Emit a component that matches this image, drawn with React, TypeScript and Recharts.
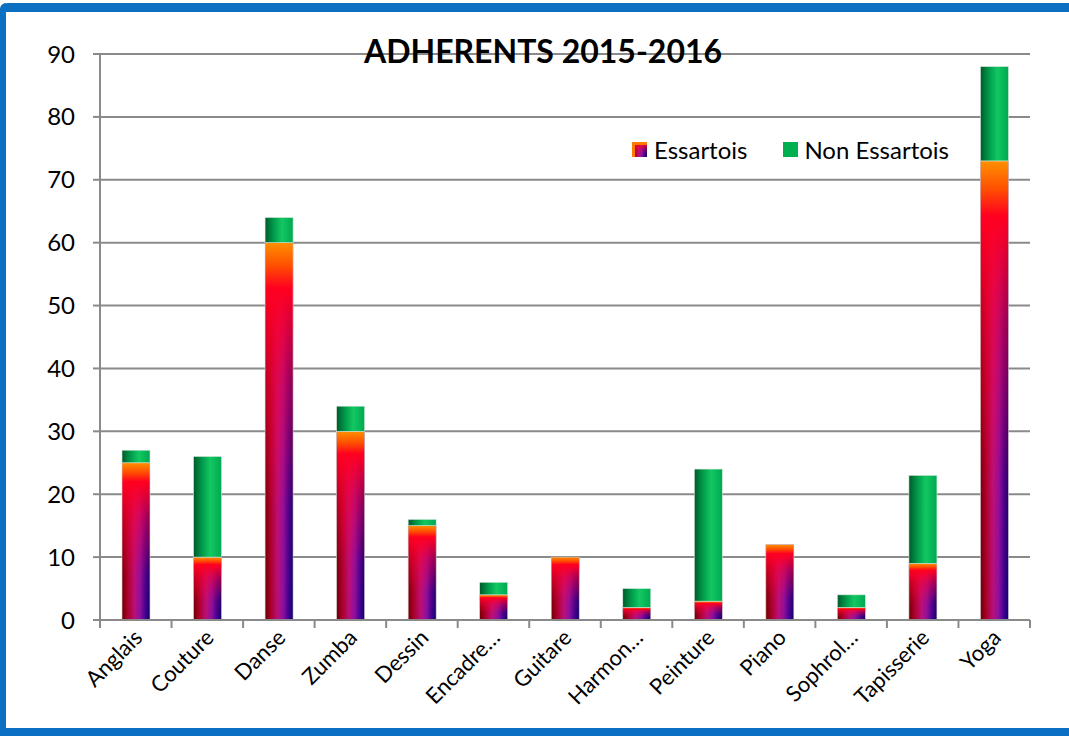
import React from 'react'
import { BarChart, Bar, XAxis, YAxis, CartesianGrid, Legend } from 'recharts'

// Données
const categories = [
	'Anglais',
	'Couture',
	'Danse',
	'Zumba',
	'Dessin',
	'Encadre…',
	'Guitare',
	'Harmon…',
	'Peinture',
	'Piano',
	'Sophrol…',
	'Tapisserie',
	'Yoga',
]
const essartois = [25, 10, 60, 30, 15, 4, 10, 2, 3, 12, 2, 9, 73]
const nonEssartois = [2, 16, 4, 4, 1, 2, 0, 3, 21, 0, 2, 14, 15]
const yTicks = [0, 10, 20, 30, 40, 50, 60, 70, 80, 90]

const chartData = categories.map((name, i) => ({
	name,
	essartois: essartois[i],
	nonEssartois: nonEssartois[i],
}))

const W = 1069
const H = 736
const MARGIN = { top: 54, right: 39, left: 40, bottom: 0 }
const Y_WIDTH = 60
const X_HEIGHT = 116
const BAND = (W - MARGIN.left - Y_WIDTH - MARGIN.right) / categories.length
const FONT = 'Lato, "Liberation Sans", sans-serif'
const GRID = '#8a8a8a'
const BLUE = '#0b70c1'

const EssShape = (props: any) => {
	const { x, y, width, height } = props
	if (!height || height <= 0) return null
	return (
		<g>
			<rect x={x} y={y} width={width} height={height} fill='url(#essH)' />
			<rect x={x} y={y} width={width} height={height} fill='url(#essV)' />
			<rect x={x} y={y} width={width} height={height} fill='none' stroke='#d6cfd6' strokeWidth={0.6} />
		</g>
	)
}

const GreenShape = (props: any) => {
	const { x, y, width, height } = props
	if (!height || height <= 0) return null
	return <rect x={x} y={y} width={width} height={height} fill='url(#greenH)' stroke='#d8e8dc' strokeWidth={0.6} />
}

const XTick = (props: any) => {
	const { x, y, payload, index } = props
	const half = BAND / 2
	return (
		<g transform={`translate(${x},${y})`}>
			<line x1={-half} x2={-half} y1={0} y2={8} stroke={GRID} strokeWidth={2} />
			{index === categories.length - 1 && <line x1={half} x2={half} y1={0} y2={8} stroke={GRID} strokeWidth={2} />}
			<text
				x={0}
				y={0}
				textAnchor='end'
				fontSize={22}
				fontFamily={FONT}
				fill='#000'
				transform='translate(8,19) rotate(-45)'
			>
				{payload.value}
			</text>
		</g>
	)
}

const LegendContent = () => (
	<div style={{ display: 'flex', alignItems: 'center', fontFamily: FONT, fontSize: 24, color: '#000' }}>
		<svg width={15} height={15} style={{ marginRight: 7 }}>
			<rect x={0} y={0} width={15} height={15} fill='url(#essH)' />
			<rect x={0} y={0} width={15} height={15} fill='url(#essV)' />
			<rect x={0} y={0} width={3} height={15} fill='#ff7a00' />
			<rect x={0} y={0} width={15} height={3} fill='#ff7a00' />
		</svg>
		<span style={{ marginRight: 36 }}>Essartois</span>
		<svg width={15} height={15} style={{ marginRight: 6 }}>
			<rect x={0} y={0} width={15} height={15} fill='#00b050' />
		</svg>
		<span>Non Essartois</span>
	</div>
)

export default function App() {
	return (
		<div style={{ position: 'fixed', left: 0, top: 0, width: W, height: H, background: '#fff', overflow: 'hidden' }}>
			{/* Cadre bleu */}
			<div style={{ position: 'absolute', left: 0, top: 3, width: W + 20, height: 9, background: BLUE, borderTopLeftRadius: 8 }} />
			<div style={{ position: 'absolute', left: 0, top: 3, width: 6, height: H - 3, background: BLUE, borderTopLeftRadius: 8 }} />
			<div style={{ position: 'absolute', left: 0, top: H - 8, width: W + 20, height: 8, background: BLUE }} />
			<div
				style={{
					position: 'absolute',
					left: 0,
					width: 1086,
					top: 31,
					textAlign: 'center',
					fontFamily: FONT,
					fontWeight: 700,
					fontSize: 32,
					color: '#000',
					zIndex: 2,
				}}
			>
				ADHERENTS 2015-2016
			</div>
			<div style={{ position: 'absolute', left: 0, top: 0 }}>
				<BarChart width={W} height={H} data={chartData} margin={MARGIN}>
					<defs>
						<linearGradient id='essH' x1='0' y1='0' x2='1' y2='0'>
							<stop offset='0%' stopColor='#6a0000' />
							<stop offset='20%' stopColor='#a8002a' />
							<stop offset='45%' stopColor='#b8107a' />
							<stop offset='65%' stopColor='#8a10a0' />
							<stop offset='85%' stopColor='#3a0090' />
							<stop offset='100%' stopColor='#10006a' />
						</linearGradient>
						<linearGradient id='essV' x1='0' y1='0' x2='0' y2='1'>
							<stop offset='0%' stopColor='#ff9000' stopOpacity={1} />
							<stop offset='6%' stopColor='#ff5000' stopOpacity={1} />
							<stop offset='12%' stopColor='#ff0020' stopOpacity={1} />
							<stop offset='35%' stopColor='#ff0030' stopOpacity={0.55} />
							<stop offset='70%' stopColor='#ff0040' stopOpacity={0.1} />
							<stop offset='100%' stopColor='#ff0040' stopOpacity={0} />
						</linearGradient>
						<linearGradient id='greenH' x1='0' y1='0' x2='1' y2='0'>
							<stop offset='0%' stopColor='#005a2a' />
							<stop offset='30%' stopColor='#00994a' />
							<stop offset='60%' stopColor='#12c862' />
							<stop offset='100%' stopColor='#00a852' />
						</linearGradient>
					</defs>
					<CartesianGrid vertical={false} stroke={GRID} strokeWidth={2} />
					<XAxis
						dataKey='name'
						height={X_HEIGHT}
						interval={0}
						tickLine={false}
						tickSize={0}
						tickMargin={0}
						axisLine={{ stroke: GRID, strokeWidth: 2 }}
						tick={<XTick />}
					/>
					<YAxis
						width={Y_WIDTH}
						domain={[0, 90]}
						ticks={yTicks}
						interval={0}
						tickSize={7}
						tickMargin={18}
						axisLine={{ stroke: GRID, strokeWidth: 2 }}
						tickLine={{ stroke: GRID, strokeWidth: 2 }}
						tick={{ fontSize: 24, fontFamily: FONT, fill: '#000' }}
					/>
					<Legend
						layout='horizontal'
						verticalAlign='middle'
						align='center'
						content={<LegendContent />}
						wrapperStyle={{ position: 'absolute', top: 135, left: 632, width: 380 }}
					/>
					<Bar
						dataKey='essartois'
						name='Essartois'
						stackId='a'
						barSize={28}
						shape={<EssShape />}
						isAnimationActive={false}
					/>
					<Bar
						dataKey='nonEssartois'
						name='Non Essartois'
						stackId='a'
						barSize={28}
						shape={<GreenShape />}
						isAnimationActive={false}
					/>
				</BarChart>
			</div>
		</div>
	)
}
